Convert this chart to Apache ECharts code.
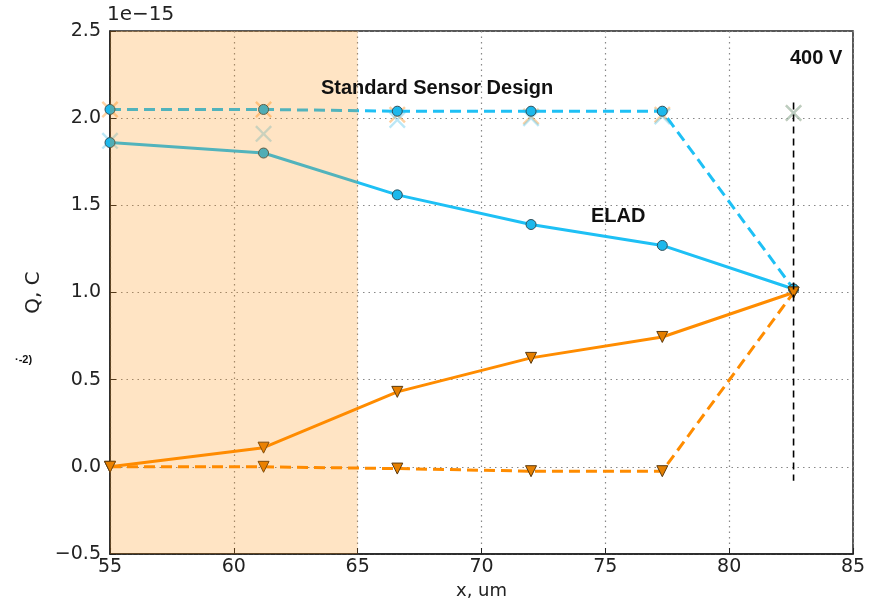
<!DOCTYPE html>
<html><head><meta charset="utf-8">
<script src="https://cdn.jsdelivr.net/npm/echarts@6/dist/echarts.min.js"></script>
<style>html,body{margin:0;padding:0;background:#fff}#c{width:877px;height:598px}</style>
</head><body><div id="c"></div>
<script>
const xPos = [55, 61.2, 66.6, 72.0, 77.3, 82.6];
const eladSolid = [1.86, 1.80, 1.56, 1.39, 1.27, 1.02];
const stdDashed = [2.05, 2.05, 2.04, 2.04, 2.04, 1.02];
const holeSolid = [0.0, 0.11, 0.43, 0.625, 0.745, 1.0];
const holeDashed = [0.0, 0.0, -0.01, -0.025, -0.025, 1.0];
const crossOrange = [2.05, 2.05, 2.02, 2.01, 2.02, 2.03];
const crossBlue = [1.87, 1.91, 1.99, 2.0, 2.01, 2.03];
const vline = [[82.6, 2.09], [82.6, -0.08]];
const shadeRange = [55, 65];
const xTicks = [55, 85, 5];
const yTicks = [-0.5, 2.5, 0.5];

const pair = ys => xPos.map((x, i) => [x, ys[i]]);
const xSym = 'path://M0,1L1,0L5,4L9,0L10,1L6,5L10,9L9,10L5,6L1,10L0,9L4,5Z';
const FONT = 'DejaVu Sans';

const chart = echarts.init(document.getElementById('c'));
chart.setOption({
  animation: false,
  grid: {left: 110, right: 24, top: 31, bottom: 44, containLabel: false, outerBoundsMode: 'none',
    show: true, borderColor: '#222', borderWidth: 1.5},
  xAxis: {
    type: 'value', min: xTicks[0], max: xTicks[1], interval: xTicks[2],
    name: 'x, um', nameLocation: 'middle', nameGap: 27,
    nameTextStyle: {fontFamily: FONT, fontSize: 18, color: '#222'},
    axisLine: {show: true, onZero: false, lineStyle: {color: '#222', width: 1.5}},
    axisTick: {show: true, inside: true, length: 6, lineStyle: {color: '#222'}},
    axisLabel: {fontFamily: FONT, fontSize: 19, color: '#222', margin: 4},
    splitLine: {show: true, lineStyle: {color: '#888', type: [1.5, 4], width: 1.2}}
  },
  yAxis: {
    type: 'value', min: yTicks[0], max: yTicks[1], interval: yTicks[2],
    name: 'Q, C', nameLocation: 'middle', nameGap: 62, nameRotate: 90,
    nameTextStyle: {fontFamily: FONT, fontSize: 20, color: '#222'},
    axisLine: {show: true, onZero: false, lineStyle: {color: '#222', width: 1.5}},
    axisTick: {show: true, inside: true, length: 6, lineStyle: {color: '#222'}},
    axisLabel: {fontFamily: FONT, fontSize: 19, color: '#222', margin: 9,
      formatter: v => (v < 0 ? '\u2212' : '') + Math.abs(v).toFixed(1)},
    splitLine: {show: true, lineStyle: {color: '#888', type: [1.5, 4], width: 1.2}}
  },
  series: [
    {type: 'scatter', data: pair(crossOrange), symbol: xSym, symbolSize: 17,
      itemStyle: {color: 'rgba(255,150,40,0.55)'}, z: 2},
    {type: 'scatter', data: pair(crossBlue), symbol: xSym, symbolSize: 17,
      itemStyle: {color: 'rgba(100,200,235,0.55)'}, z: 2},
    {type: 'line', data: pair(stdDashed), symbol: 'circle', symbolSize: 10,
      lineStyle: {color: '#1ec0f5', width: 3, type: [11, 6]},
      itemStyle: {color: '#1cb8ec', borderColor: '#2f4f5a', borderWidth: 1}, z: 3},
    {type: 'line', data: pair(eladSolid), symbol: 'circle', symbolSize: 10,
      lineStyle: {color: '#1ec0f5', width: 3},
      itemStyle: {color: '#1cb8ec', borderColor: '#2f4f5a', borderWidth: 1}, z: 3},
    {type: 'line', data: pair(holeDashed), symbol: 'triangle', symbolRotate: 180, symbolSize: 11,
      lineStyle: {color: '#ff8c00', width: 3, type: [11, 6]},
      itemStyle: {color: '#e57f00', borderColor: '#5a3a10', borderWidth: 1}, z: 3},
    {type: 'line', data: pair(holeSolid), symbol: 'triangle', symbolRotate: 180, symbolSize: 11,
      lineStyle: {color: '#ff8c00', width: 3},
      itemStyle: {color: '#e57f00', borderColor: '#5a3a10', borderWidth: 1}, z: 3},
    {type: 'line', data: vline, symbol: 'none',
      lineStyle: {color: '#000', width: 1.6, type: [7, 5]}, z: 4},
    {type: 'scatter', data: [], z: 10,
      markArea: {silent: true, z: 10, itemStyle: {color: 'rgba(255,140,0,0.23)'},
        data: [[{xAxis: shadeRange[0]}, {xAxis: shadeRange[1]}]]}}
  ],
  graphic: [
    {type: 'text', z: 100, left: 107, top: 5, style: {text: '1e\u221215', font: '20px "DejaVu Sans"', fill: '#222'}},
    {type: 'text', z: 100, left: 321, top: 78, style: {text: 'Standard Sensor Design', font: 'bold 20px "Liberation Sans"', fill: '#111'}},
    {type: 'text', z: 100, left: 591, top: 206, style: {text: 'ELAD', font: 'bold 20px "Liberation Sans"', fill: '#111'}},
    {type: 'text', z: 100, left: 790, top: 48, style: {text: '400 V', font: 'bold 20px "Liberation Sans"', fill: '#111'}},
    {type: 'text', z: 100, left: 15, top: 354, style: {text: '\u00b7-2)', font: 'bold 11px "Liberation Sans"', fill: '#111'}}
  ]
});
</script></body></html>
